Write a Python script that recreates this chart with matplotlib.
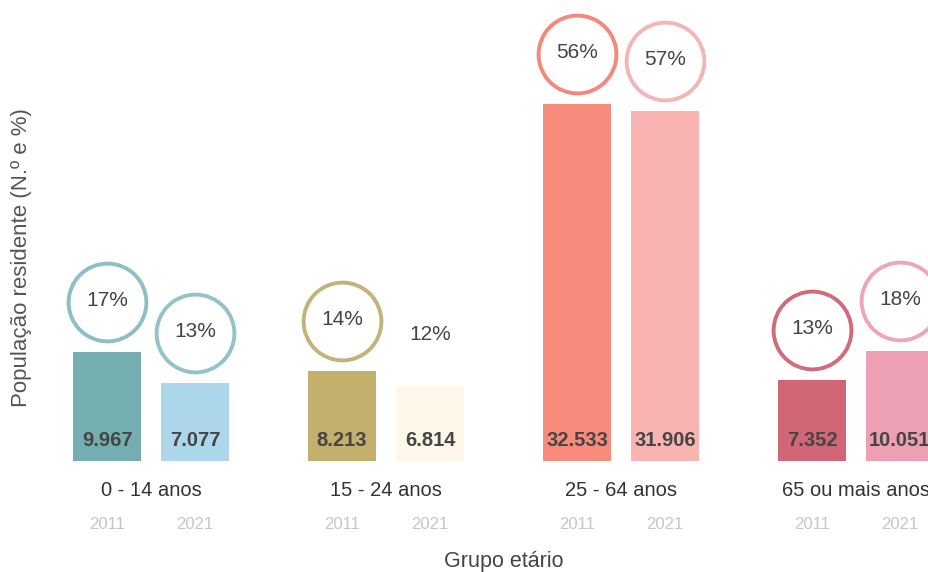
import numpy as np
import matplotlib.pyplot as plt
from matplotlib.transforms import offset_copy

plt.rcParams['font.family'] = ['Liberation Sans', 'DejaVu Sans']

# --- Data ---
groups = ["0 - 14 anos", "15 - 24 anos", "25 - 64 anos", "65 ou mais anos"]
years = ["2011", "2021"]
pop_2011 = [9967, 8213, 32533, 7352]
pop_2021 = [7077, 6814, 31906, 10051]
pct_2011 = [17, 14, 56, 13]
pct_2021 = [13, 12, 57, 18]

# --- Styles ---
bar_2011 = ["#74aeb0", "#c3b06c", "#f98b7d", "#d16677"]
bar_2021 = ["#acd7ea", "#fff8ea", "#f9b4b1", "#eda0b3"]
ring_2011 = ["#8dbfc4", "#c4b27c", "#f6877b", "#cf6b7a"]
ring_2021 = ["#94c2c9", "#ffffff", "#f3b5b7", "#eca6b8"]

fig = plt.figure(figsize=(9.29, 5.72), dpi=100)
ax = fig.add_axes([0, 111 / 572, 1, 461 / 572])
ax.set_xlim(-0.643, 3.311)
ax.set_ylim(0, 42000)
ax.axis("off")

x = np.arange(len(groups))
off = 0.187
width = 0.29

ring_tr = offset_copy(ax.transData, fig=fig, y=36, units="points")

series = [
    (years[0], x - off, pop_2011, pct_2011, bar_2011, ring_2011),
    (years[1], x + off, pop_2021, pct_2021, bar_2021, ring_2021),
]

for yr, xs, vals, pcts, bcols, rcols in series:
    ax.bar(xs, vals, width=width, color=bcols, edgecolor="none")
    for xi, v, p, rc in zip(xs, vals, pcts, rcols):
        # value label inside the bar, near the bottom
        ax.annotate(f"{v:,}".replace(",", "."), xy=(xi, 0), xytext=(0, 15),
                    textcoords="offset points", ha="center", va="center",
                    fontsize=14.5, fontweight="bold", color="#454545",
                    annotation_clip=False)
        # percentage ring above the bar
        ax.plot([xi], [v], marker="o", markersize=56, markerfacecolor="none",
                markeredgecolor=rc, markeredgewidth=2.8, transform=ring_tr,
                clip_on=False)
        ax.annotate(f"{p}%", xy=(xi, v), xytext=(0, 37),
                    textcoords="offset points", ha="center", va="center",
                    fontsize=15, color="#444444", annotation_clip=False)
        # year label below
        ax.annotate(yr, xy=(xi, 0), xytext=(0, -46), textcoords="offset points",
                    ha="center", va="center", fontsize=12, color="#c6c6c6",
                    annotation_clip=False)

for xi, g in zip(x, groups):
    ax.annotate(g, xy=(xi, 0), xytext=(0, -21), textcoords="offset points",
                ha="center", va="center", fontsize=14.5, color="#333333",
                annotation_clip=False)

fig.text(504 / 929, 1 - 562 / 572, "Grupo etário", ha="center", va="center",
         fontsize=15.5, color="#444444")
fig.text(22 / 929, 1 - 258 / 572, "População residente (N.º e %)",
         rotation=90, ha="center", va="center", fontsize=16, color="#555555")

fig.savefig("out.png", dpi=100, facecolor="white")
